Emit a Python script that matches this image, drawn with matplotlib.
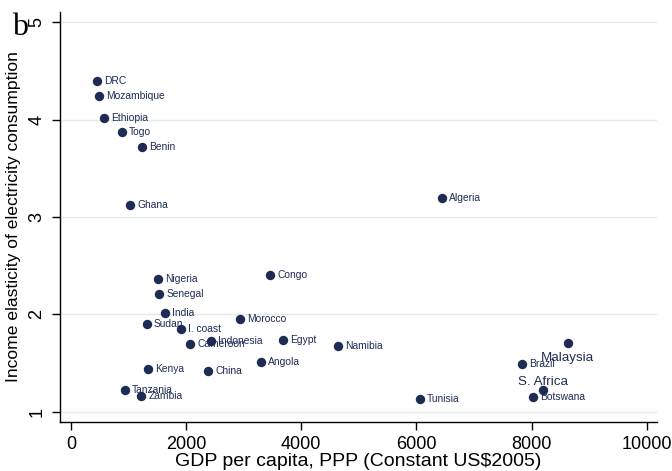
import matplotlib
matplotlib.use("Agg")
import matplotlib.pyplot as plt

plt.rcParams["font.family"] = ["Liberation Sans", "DejaVu Sans"]

countries = ["DRC", "Mozambique", "Ethiopia", "Togo", "Benin", "Ghana", "Algeria",
             "Nigeria", "Congo", "Senegal", "India", "Morocco", "Sudan", "I. coast",
             "Indonesia", "Egypt", "Cameroon", "Namibia", "Angola", "Kenya", "China",
             "Tanzania", "Zambia", "Tunisia", "Malaysia", "Brazil", "S. Africa", "Botswana"]
gdp_pc = [452, 486, 573, 886, 1233, 1025, 6439,
          1506, 3457, 1534, 1633, 2930, 1315, 1905,
          2432, 3688, 2067, 4638, 3295, 1343, 2380,
          933, 1216, 6062, 8628, 7834, 8204, 8030]
elasticity = [4.40, 4.24, 4.02, 3.87, 3.72, 3.12, 3.19,
              2.36, 2.40, 2.21, 2.01, 1.95, 1.90, 1.85,
              1.73, 1.74, 1.70, 1.67, 1.51, 1.44, 1.42,
              1.22, 1.16, 1.13, 1.71, 1.49, 1.22, 1.15]
# label placement: "r" = right of marker, "b" = below, "t" = above (larger text)
label_pos = ["r"] * 24 + ["b", "r", "t", "r"]

x_ticks = [0, 2000, 4000, 6000, 8000, 10000]
y_ticks = [1, 2, 3, 4, 5]

navy = "#1e2c54"

fig = plt.figure(figsize=(6.72, 4.71), dpi=100)
ax = fig.add_axes([0.0893, 0.1034, 0.8888, 0.8718])

ax.set_xlim(-191, 10184)
ax.set_ylim(0.891, 5.109)

for yt in y_ticks:
    ax.axhline(yt, color="#e2eaea", lw=1.0, zorder=0)

ax.scatter(gdp_pc, elasticity, s=46, color=navy, zorder=3, linewidths=0)

for name, x, y, pos in zip(countries, gdp_pc, elasticity, label_pos):
    if pos == "r":
        ax.annotate(name, (x, y), xytext=(5.2, 0), textcoords="offset points",
                    ha="left", va="center", fontsize=7.4, color=navy, zorder=4)
    elif pos == "b":
        ax.annotate(name, (x, y), xytext=(0, -6.5), textcoords="offset points",
                    ha="center", va="top", fontsize=9.6, color=navy, zorder=4)
    else:
        ax.annotate(name, (x, y), xytext=(0, 4), textcoords="offset points",
                    ha="center", va="baseline", fontsize=9.6, color=navy, zorder=4)

ax.set_xticks(x_ticks)
ax.set_xticklabels([str(v) for v in x_ticks])
ax.set_yticks(y_ticks)
ax.set_yticklabels([str(v) for v in y_ticks], rotation=90, va="center")

ax.tick_params(axis="both", direction="out", length=5.5, width=1.0,
               labelsize=13, color="black")
ax.tick_params(axis="x", pad=4.5)
ax.tick_params(axis="y", pad=5)

for side in ["top", "right"]:
    ax.spines[side].set_visible(False)
for side in ["left", "bottom"]:
    ax.spines[side].set_linewidth(1.0)
    ax.spines[side].set_color("black")

ax.set_xlabel("GDP per capita, PPP (Constant US$2005)", fontsize=14, labelpad=0)
ax.set_ylabel("Income elasticity of electricity consumption", fontsize=12.6, labelpad=5)

fig.text(0.018, 0.972, "b", fontsize=23, family="Liberation Serif",
         ha="left", va="top")

fig.savefig("out.png", dpi=100)
